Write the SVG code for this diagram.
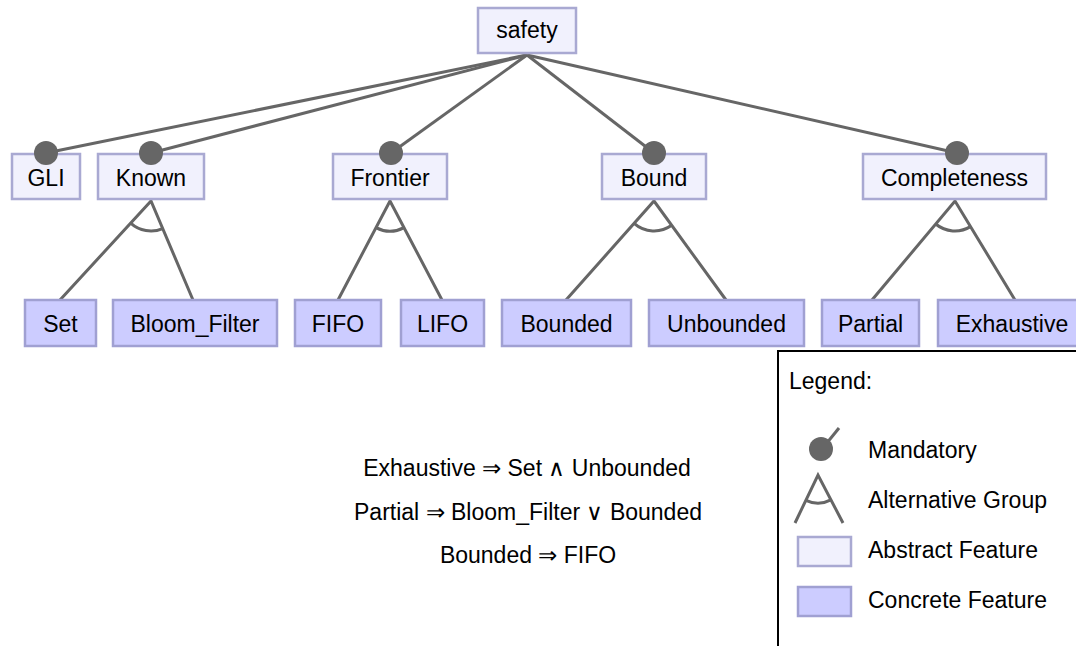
<svg xmlns="http://www.w3.org/2000/svg" width="1076" height="646" viewBox="0 0 1076 646">
<style>
text{font-family:"Liberation Sans",Arial,sans-serif;font-size:23px;fill:#000}
.c{text-anchor:middle}
.abs{fill:#F1F1FD;stroke:#A9A9D2;stroke-width:2.5}
.con{fill:#CCCCFF;stroke:#A0A0D2;stroke-width:2.5}
.ln{stroke:#666;stroke-width:3;fill:none}
.dot{fill:#666}
</style>
<rect width="1076" height="646" fill="#fff"/>
<g id="connectors">
<line class="ln" x1="527" y1="55" x2="46" y2="153"/>
<line class="ln" x1="527" y1="55" x2="151" y2="153"/>
<line class="ln" x1="527" y1="55" x2="391" y2="153"/>
<line class="ln" x1="527" y1="55" x2="654" y2="153"/>
<line class="ln" x1="527" y1="55" x2="957" y2="153"/>
<path class="ln" d="M60 300 L151 201 L193 300"/>
<path class="ln" d="M130.7 223.1 A30 30 0 0 0 162.7 228.6"/>
<path class="ln" d="M338 300 L390 201 L442 300"/>
<path class="ln" d="M376 227.6 A30 30 0 0 0 404 227.6"/>
<path class="ln" d="M566 300 L654 201 L726 300"/>
<path class="ln" d="M634.1 223.4 A30 30 0 0 0 671.6 225.3"/>
<path class="ln" d="M872 300 L955 201 L1015 300"/>
<path class="ln" d="M935.7 224 A30 30 0 0 0 970.5 226.6"/>
</g>
<g id="safety"><rect class="abs" x="478" y="8" width="98" height="45"/><text class="c" x="527" y="38">safety</text></g>
<g id="GLI"><rect class="abs" x="12" y="154" width="68" height="45"/><text class="c" x="46" y="186">GLI</text><circle class="dot" cx="46" cy="153" r="12"/></g>
<g id="Known"><rect class="abs" x="98" y="154" width="106" height="45"/><text class="c" x="151" y="186">Known</text><circle class="dot" cx="151" cy="153" r="12"/></g>
<g id="Frontier"><rect class="abs" x="333" y="154" width="114" height="45"/><text class="c" x="390" y="186">Frontier</text><circle class="dot" cx="391" cy="153" r="12"/></g>
<g id="Bound"><rect class="abs" x="602" y="154" width="104" height="45"/><text class="c" x="654" y="186">Bound</text><circle class="dot" cx="654" cy="153" r="12"/></g>
<g id="Completeness"><rect class="abs" x="863" y="154" width="183" height="45"/><text class="c" x="954.5" y="186">Completeness</text><circle class="dot" cx="957" cy="153" r="12"/></g>
<g id="Set"><rect class="con" x="25" y="300" width="71" height="46"/><text class="c" x="60.5" y="332">Set</text></g>
<g id="Bloom_Filter"><rect class="con" x="113" y="300" width="164" height="46"/><text class="c" x="195" y="332">Bloom_Filter</text></g>
<g id="FIFO"><rect class="con" x="295" y="300" width="86" height="46"/><text class="c" x="338" y="332">FIFO</text></g>
<g id="LIFO"><rect class="con" x="401" y="300" width="83" height="46"/><text class="c" x="442.5" y="332">LIFO</text></g>
<g id="Bounded"><rect class="con" x="502" y="300" width="129" height="46"/><text class="c" x="566.5" y="332">Bounded</text></g>
<g id="Unbounded"><rect class="con" x="649" y="300" width="155" height="46"/><text class="c" x="726.5" y="332">Unbounded</text></g>
<g id="Partial"><rect class="con" x="822" y="300" width="97" height="46"/><text class="c" x="870.5" y="332">Partial</text></g>
<g id="Exhaustive"><rect class="con" x="938" y="300" width="150" height="46"/><text class="c" x="1012" y="332">Exhaustive</text></g>
<g id="constraints">
<text class="c" x="527" y="476">Exhaustive ⇒ Set ∧ Unbounded</text>
<text class="c" x="528" y="520">Partial ⇒ Bloom_Filter ∨ Bounded</text>
<text class="c" x="528" y="563">Bounded ⇒ FIFO</text>
</g>
<g id="legend">
<rect x="778" y="351" width="310" height="310" fill="#fff" stroke="#000" stroke-width="2"/>
<text x="789" y="389">Legend:</text>
<line class="ln" x1="822" y1="449" x2="839" y2="428"/>
<circle class="dot" cx="821" cy="449" r="12"/>
<text x="868" y="458">Mandatory</text>
<path class="ln" d="M795 523 L818 475 L843 523"/>
<path class="ln" d="M805.9 500.3 A28 28 0 0 0 830.9 499.8"/>
<text x="868" y="508">Alternative Group</text>
<rect class="abs" x="798" y="537" width="53" height="29"/>
<text x="868" y="558">Abstract Feature</text>
<rect class="con" x="798" y="587" width="53" height="29"/>
<text x="868" y="608">Concrete Feature</text>
</g>
</svg>
